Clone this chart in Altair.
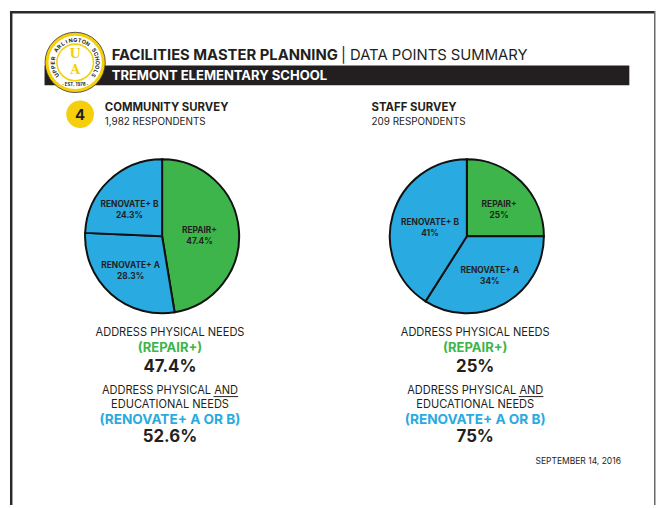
import altair as alt
import pandas as pd

# ---------------- data ----------------
categories = ["REPAIR+", "RENOVATE+ A", "RENOVATE+ B"]
community_values = [47.4, 28.3, 24.3]
staff_values = [25, 34, 41]
community_labels = ["47.4%", "28.3%", "24.3%"]
staff_labels = ["25%", "34%", "41%"]
surveys = ["COMMUNITY SURVEY", "STAFF SURVEY"]
respondents = ["1,982 RESPONDENTS", "209 RESPONDENTS"]
repair_share = ["47.4%", "25%"]
renovate_share = ["52.6%", "75%"]
logo_ring_text = "UPPER ARLINGTON SCHOOLS"

GREEN = "#3DB54A"
BLUE = "#29AAE1"
YELLOW = "#F5CF0C"
DARK = "#231F20"
FONT = "Inter"

one = pd.DataFrame({"k": [0]})


def X(v):
    return v - 8


def Y(v):
    return v - 8


def txt(s, x, y, size, weight="normal", color=DARK, align="center", font=FONT):
    return alt.Chart(one).mark_text(
        fontSize=size, fontWeight=weight, color=color, align=align,
        baseline="middle", font=font
    ).encode(x=alt.value(X(x)), y=alt.value(Y(y)), text=alt.value(s))


def box(x1, x2, y1, y2, color):
    return alt.Chart(one).mark_rect(color=color).encode(
        x=alt.value(X(x1)), x2=alt.value(X(x2)), y=alt.value(Y(y1)), y2=alt.value(Y(y2)))


def dot(x, y, r, fill, stroke=None, sw=0):
    kw = dict(fill=fill, opacity=1, fillOpacity=1)
    if stroke:
        kw.update(stroke=stroke, strokeWidth=sw)
    return alt.Chart(one).mark_circle(**kw).encode(
        x=alt.value(X(x)), y=alt.value(Y(y)), size=alt.value((2 * r) ** 2))


def pie(values, labels, cx, cy, ldx):
    df = pd.DataFrame({"category": categories, "value": values,
                       "label": labels, "order": [0, 1, 2]})
    base = alt.Chart(df).encode(
        theta=alt.Theta("value:Q", stack=True),
        order=alt.Order("order:Q"),
        x=alt.value(X(cx)), y=alt.value(Y(cy)),
    )
    arcs = base.mark_arc(outerRadius=78, stroke="#111111", strokeWidth=2).encode(
        color=alt.Color("category:N",
                        scale=alt.Scale(domain=categories, range=[GREEN, BLUE, BLUE]),
                        legend=None))
    names = base.mark_text(radius=42, dx=ldx, dy=-2.5, fontSize=8.5, fontWeight="bold",
                           font=FONT, color=DARK).encode(text="category:N")
    pcts = base.mark_text(radius=42, dx=ldx, dy=8.5, fontSize=8.5, fontWeight="bold",
                          font=FONT, color=DARK).encode(text="label:N")
    return [arcs, names, pcts]


def ring_text(s, cx, cy, r, span=250):
    n = len(s)
    angs = [-span / 2 + i * span / (n - 1) for i in range(n)]
    df = pd.DataFrame({"c": list(s), "deg": angs,
                       "rad": [a * 3.14159265 / 180 for a in angs]})
    return alt.Chart(df).mark_text(
        radius=r, fontSize=5.5, fontWeight="bold", font=FONT, color=DARK,
        baseline="middle", align="center"
    ).encode(
        x=alt.value(X(cx)), y=alt.value(Y(cy)),
        theta=alt.Theta("rad:Q", scale=None, stack=False),
        angle=alt.Angle("deg:Q", scale=None),
        text="c:N",
    )


layers = []

# page frame
layers.append(box(10, 12.5, 8, 508, "#2a2a2a"))
layers.append(box(10, 663, 8, 10.5, "#2a2a2a"))
layers.append(box(662, 663.5, 8, 508, "#666666"))

# header bar
layers.append(box(45, 637, 63, 83, DARK))
layers.append(txt("FACILITIES MASTER PLANNING", 113, 53, 15, "bold", align="left"))
layers.append(txt("| DATA POINTS SUMMARY", 345, 53, 15, "normal", align="left"))
layers.append(txt("TREMONT ELEMENTARY SCHOOL", 113, 73.5, 13.2, "bold", color="white", align="left"))

# logo
layers.append(dot(76, 60, 30.5, YELLOW, "#333333", 0.8))
layers.append(dot(76, 60, 27, "white"))
layers.append(dot(76, 60, 18.5, "white", YELLOW, 1.6))
layers.append(ring_text(logo_ring_text, 76, 60, 22.8))
layers.append(txt("· EST. 1978 ·", 76, 82.5, 4.5, "bold"))
layers.append(txt("U", 76, 52, 13, "bold", color=YELLOW, font="DejaVu Serif"))
layers.append(txt("A", 76, 68, 13, "bold", color=YELLOW, font="DejaVu Serif"))

# badge
layers.append(dot(81, 112.5, 14, YELLOW))
layers.append(txt("4", 81, 113, 15, "bold"))

# survey headings
layers.append(txt(surveys[0], 106, 106.5, 11.5, "bold", align="left"))
layers.append(txt(respondents[0], 106, 120, 10, align="left"))
layers.append(txt(surveys[1], 376, 106.5, 11.5, "bold", align="left"))
layers.append(txt(respondents[1], 376, 120, 10, align="left"))

# pies
layers += pie(community_values, community_labels, 164, 236, -4)
layers += pie(staff_values, staff_labels, 472.5, 236, 3)

# summary text columns
for cx, i in [(172, 0), (481, 1)]:
    layers.append(txt("ADDRESS PHYSICAL NEEDS", cx, 334, 11.2))
    layers.append(txt("(REPAIR+)", cx, 349, 13.2, "bold", color=GREEN))
    layers.append(txt(repair_share[i], cx, 368, 17, "bold"))
    layers.append(txt("ADDRESS PHYSICAL AND", cx, 392.5, 11.2))
    layers.append(txt("EDUCATIONAL NEEDS", cx, 407, 11.2))
    layers.append(txt("(RENOVATE+ A OR B)", cx, 422, 13.8, "bold", color=BLUE))
    layers.append(txt(renovate_share[i], cx, 439.5, 17, "bold"))
    layers.append(box(cx + 44, cx + 69, 397.8, 398.8, DARK))

# date
layers.append(txt("SEPTEMBER 14, 2016", 542, 464, 8.6, align="left"))

chart = alt.layer(*layers).properties(
    width=656, height=500, padding=0, autosize="none", background="white"
).configure_view(stroke=None)

chart.save("out.html", embed_options={"renderer": "svg", "actions": False})
